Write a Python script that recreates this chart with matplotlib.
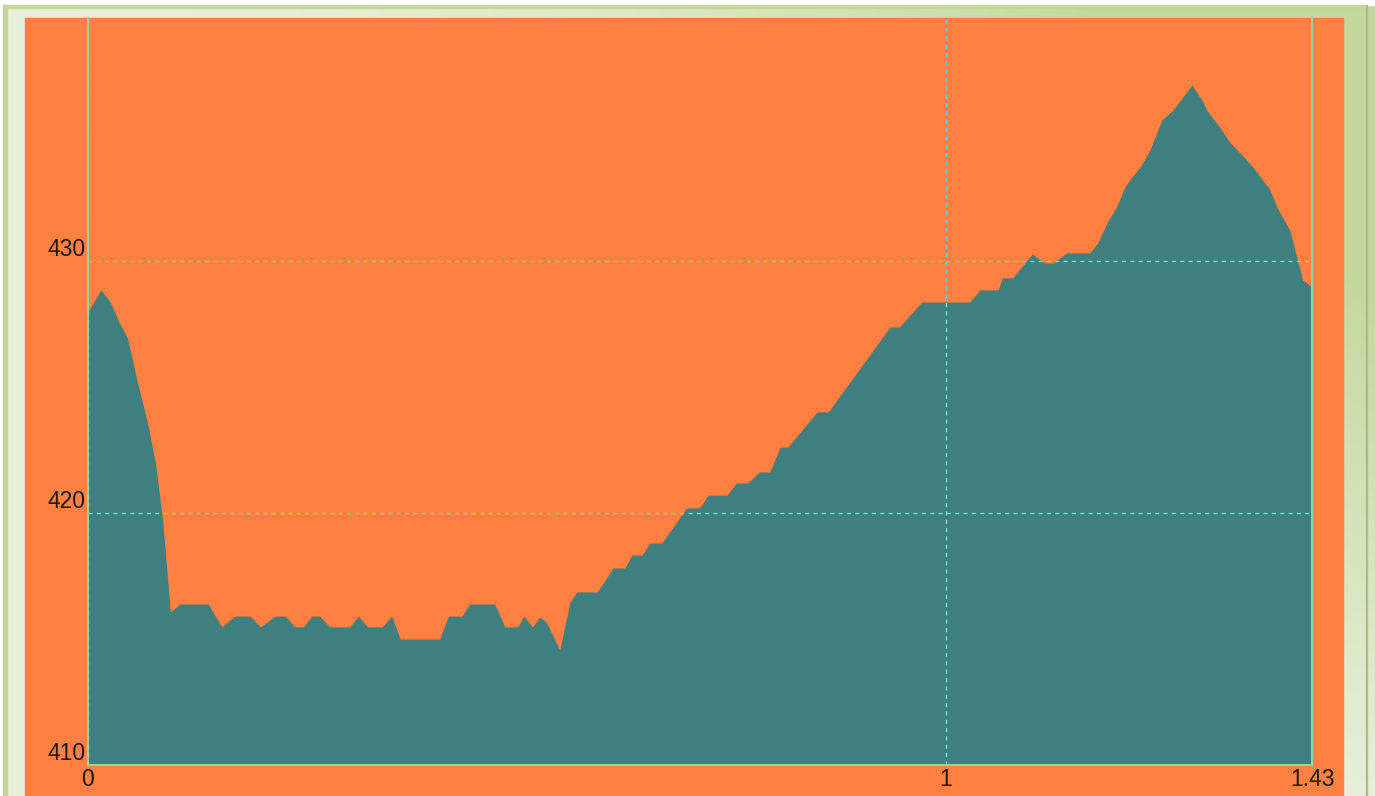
import numpy as np
import matplotlib
matplotlib.use('Agg')
import matplotlib.pyplot as plt
from matplotlib.patches import Rectangle

# ---- data (distance, elevation) ----
distance = [0.000, 0.015, 0.026, 0.036, 0.046, 0.057, 0.070, 0.079, 0.087, 0.096,
            0.107, 0.140, 0.156, 0.171, 0.189, 0.201, 0.218, 0.230, 0.241, 0.251,
            0.261, 0.270, 0.282, 0.305, 0.315, 0.326, 0.343, 0.354, 0.364, 0.410,
            0.420, 0.436, 0.445, 0.474, 0.486, 0.501, 0.508, 0.518, 0.527, 0.535,
            0.550, 0.562, 0.570, 0.594, 0.612, 0.626, 0.634, 0.646, 0.655, 0.669,
            0.698, 0.713, 0.723, 0.745, 0.756, 0.769, 0.783, 0.795, 0.807, 0.816,
            0.850, 0.863, 0.935, 0.946, 0.972, 1.028, 1.040, 1.061, 1.066, 1.078,
            1.101, 1.115, 1.125, 1.141, 1.168, 1.177, 1.188, 1.199, 1.209, 1.217,
            1.226, 1.238, 1.252, 1.265, 1.287, 1.300, 1.304, 1.319, 1.331, 1.343,
            1.358, 1.378, 1.386, 1.401, 1.416, 1.427]
elevation = [427.98, 428.85, 428.37, 427.58, 426.94, 425.28, 423.49, 421.90, 419.72, 416.07,
             416.39, 416.39, 415.48, 415.91, 415.91, 415.48, 415.91, 415.91, 415.48, 415.48,
             415.91, 415.91, 415.48, 415.48, 415.91, 415.48, 415.48, 415.91, 415.00, 415.00,
             415.91, 415.91, 416.39, 416.39, 415.48, 415.48, 415.91, 415.48, 415.87, 415.63,
             414.56, 416.47, 416.87, 416.87, 417.82, 417.82, 418.33, 418.33, 418.81, 418.81,
             420.20, 420.20, 420.71, 420.71, 421.19, 421.19, 421.63, 421.63, 422.62, 422.62,
             424.01, 424.01, 427.38, 427.38, 428.37, 428.37, 428.85, 428.85, 429.33, 429.33,
             430.28, 429.92, 429.92, 430.32, 430.32, 430.71, 431.51, 432.14, 432.94, 433.33,
             433.69, 434.40, 435.60, 435.99, 436.98, 436.31, 435.99, 435.32, 434.72, 434.29,
             433.73, 432.82, 432.14, 431.23, 429.25, 428.97]

x_ticks = [0, 1, 1.427]
x_tick_labels = ['0', '1', '1.43']
y_ticks = [410, 420, 430]
y_tick_labels = ['410', '420', '430']

ORANGE = '#ff8040'
TEAL = '#407f7f'

W, H = 1375, 796
fig = plt.figure(figsize=(W / 100, H / 100), dpi=100)
fig.patch.set_facecolor('white')

# ---- decorative background frame ----
bg = fig.add_axes([0, 0, 1, 1], zorder=-10)
bg.set_axis_off()
xx = np.linspace(0, 1, W)
yy = np.linspace(0, 1, H)
X, Y = np.meshgrid(xx, yy)
t = np.clip(X ** 2 * (1 - Y) * 1.6, 0, 1)
cream = np.array([0.91, 0.94, 0.86])
green = np.array([0.77, 0.85, 0.62])
img = cream + (green - cream) * t[..., None]
bg.imshow(img, extent=[0, W, H, 0], aspect='auto')
bg.set_xlim(0, W)
bg.set_ylim(H, 0)
bg.add_patch(Rectangle((0, 0), W, 5, color='white'))
bg.add_patch(Rectangle((0, 0), 3, H, color='white'))
bg.add_patch(Rectangle((3, 5), 1364, 3, color='#c3d69b'))
bg.add_patch(Rectangle((3, 5), 4, H, color='#c3d69b'))
bg.add_patch(Rectangle((1366, 5), 1.5, H, color='#a9bf86'))
bg.add_patch(Rectangle((25, 18), 1318, H - 18, color=ORANGE))

# ---- main chart ----
ax = fig.add_axes([88 / W, 31 / H, (1312 - 88) / W, (765 - 18) / H])
ax.set_facecolor(ORANGE)
ax.fill_between(distance, 410, elevation, color=TEAL, lw=0, zorder=2)
ax.set_xlim(0, 1.427)
ax.set_ylim(410, 439.64)

ax.set_xticks(x_ticks)
ax.set_xticklabels(x_tick_labels)
ax.set_yticks(y_ticks)
ax.set_yticklabels(y_tick_labels)
ax.grid(True, color='#62dcd4', ls=(0, (3, 3)), lw=1, zorder=3)
ax.set_axisbelow(False)
ax.tick_params(length=0, labelsize=16.5, labelcolor='#1a1a1a', pad=2)
for lbl in ax.get_xticklabels() + ax.get_yticklabels():
    lbl.set_fontfamily('Liberation Sans')
for lbl in ax.get_yticklabels():
    lbl.set_va('bottom')

for s in ['left', 'right', 'bottom']:
    ax.spines[s].set_color('#8fd6a6')
    ax.spines[s].set_linewidth(1.5)
    ax.spines[s].set_zorder(4)
ax.spines['top'].set_visible(False)

fig.savefig('out.png', dpi=100, facecolor=fig.get_facecolor())
